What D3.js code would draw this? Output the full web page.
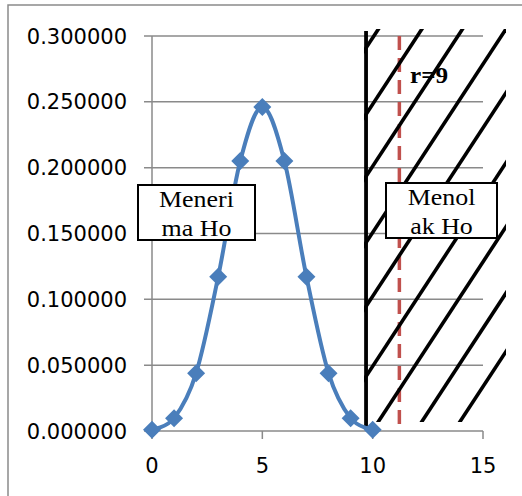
<!DOCTYPE html>
<html>
<head>
<meta charset="utf-8">
<script src="https://cdn.jsdelivr.net/npm/d3@7/dist/d3.min.js"></script>
<style>
  html, body { margin: 0; padding: 0; background: #fff; }
  svg { display: block; }
</style>
</head>
<body>
<script>
// ---- data ----
const xValues = [0, 1, 2, 3, 4, 5, 6, 7, 8, 9, 10];
const probabilities = [0.000977, 0.009766, 0.043945, 0.117188, 0.205078, 0.246094,
                       0.205078, 0.117188, 0.043945, 0.009766, 0.000977];
const xTicks = [0, 5, 10, 15];
const yTicks = [0, 0.05, 0.10, 0.15, 0.20, 0.25, 0.30];

// annotation shapes (data units)
const rejectBoundary = 9.70;          // solid black vertical line
const criticalLine = 11.21;           // red dashed line (r=9)
const hatchIntercepts = [-1.67, 0.30, 2.14, 4.11, 6.00, 8.08, 9.98, 11.95, 13.68]; // x at y=0
const acceptLines = ["Meneri", "ma Ho"];
const rejectLines = ["Menol", "ak Ho"];
const rLabel = "r=9";

// ---- layout ----
const W = 522, H = 496;
const svg = d3.select("body").append("svg").attr("width", W).attr("height", H);

const x = d3.scaleLinear().domain([0, 15]).range([152, 483]);
const y = d3.scaleLinear().domain([0, 0.3]).range([431, 36]);

const gridColor = "#8a8a8a";

// chart border
svg.append("rect").attr("x", 8).attr("y", 5).attr("width", 620).attr("height", 620)
  .attr("fill", "none").attr("stroke", gridColor).attr("stroke-width", 1.5);

// gridlines
svg.append("g").selectAll("line").data(yTicks).join("line")
  .attr("x1", x(0) - 8).attr("x2", x(15))
  .attr("y1", d => y(d)).attr("y2", d => y(d))
  .attr("stroke", gridColor).attr("stroke-width", 1.5);

// y axis line
svg.append("line").attr("x1", x(0)).attr("x2", x(0)).attr("y1", y(0.3)).attr("y2", y(0))
  .attr("stroke", gridColor).attr("stroke-width", 1.5);

// x axis ticks
svg.append("g").selectAll("line").data(xTicks).join("line")
  .attr("x1", d => x(d)).attr("x2", d => x(d)).attr("y1", y(0)).attr("y2", y(0) + 8)
  .attr("stroke", gridColor).attr("stroke-width", 1.5);

// tick labels
const fmt = d3.format(".6f");
svg.append("g").selectAll("text").data(yTicks).join("text")
  .attr("x", 127).attr("y", d => y(d) + 7.5)
  .attr("text-anchor", "end")
  .attr("font-family", "DejaVu Sans").attr("font-size", 21).attr("fill", "#000")
  .text(d => fmt(d));

svg.append("g").selectAll("text").data(xTicks).join("text")
  .attr("x", d => x(d)).attr("y", 473)
  .attr("text-anchor", "middle")
  .attr("font-family", "DejaVu Sans").attr("font-size", 21).attr("fill", "#000")
  .text(d => d);

// red dashed critical line
svg.append("line")
  .attr("x1", x(criticalLine)).attr("x2", x(criticalLine))
  .attr("y1", y(0.3)).attr("y2", y(0))
  .attr("stroke", "#c0504d").attr("stroke-width", 3.5)
  .attr("stroke-dasharray", "14,8");

// hatch lines
const clip = svg.append("defs").append("clipPath").attr("id", "hatchClip");
clip.append("rect").attr("x", x(rejectBoundary) - 2).attr("y", 29)
  .attr("width", 506 - x(rejectBoundary) + 2).attr("height", 422 - 29);
const slope = 0.655; // px of x per px of y
const yTopPx = 20, yBotPx = y(0);
svg.append("g").attr("clip-path", "url(#hatchClip)")
  .selectAll("line").data(hatchIntercepts).join("line")
  .attr("x1", d => x(d)).attr("y1", yBotPx)
  .attr("x2", d => x(d) + slope * (yBotPx - yTopPx)).attr("y2", yTopPx)
  .attr("stroke", "#000").attr("stroke-width", 3.6);

// vertical reject boundary
svg.append("line")
  .attr("x1", x(rejectBoundary)).attr("x2", x(rejectBoundary))
  .attr("y1", 31).attr("y2", 428)
  .attr("stroke", "#000").attr("stroke-width", 3.8);

// series
const pts = xValues.map((v, i) => [v, probabilities[i]]);
const line = d3.line().x(d => x(d[0])).y(d => y(d[1])).curve(d3.curveCardinal.tension(0));
svg.append("path").datum(pts).attr("d", line)
  .attr("fill", "none").attr("stroke", "#4a7ebb").attr("stroke-width", 4)
  .attr("stroke-linejoin", "round");
const r = 9;
svg.append("g").selectAll("path").data(pts).join("path")
  .attr("d", `M0,${-r}L${r},0L0,${r}L${-r},0Z`)
  .attr("transform", d => `translate(${x(d[0])},${y(d[1])})`)
  .attr("fill", "#4a7ebb");

// text boxes
function stretchText(sel, k) {
  sel.each(function () {
    const len = this.getComputedTextLength();
    d3.select(this).attr("textLength", len * k).attr("lengthAdjust", "spacingAndGlyphs");
  });
}
function textBox(x0, y0, w, h, lines) {
  svg.append("rect").attr("x", x0).attr("y", y0).attr("width", w).attr("height", h)
    .attr("fill", "#fff").attr("stroke", "#000").attr("stroke-width", 2);
  const t = svg.append("g").selectAll("text").data(lines).join("text")
    .attr("x", x0 + w / 2).attr("y", (d, i) => y0 + 22 + i * 28.5)
    .attr("text-anchor", "middle")
    .attr("font-family", "Liberation Serif").attr("font-size", 24).attr("fill", "#000")
    .text(d => d);
  stretchText(t, 1.08);
}
textBox(138, 185, 117, 55, acceptLines);
textBox(386, 183, 111, 55, rejectLines);

const rt = svg.append("text").attr("x", 410).attr("y", 82.5)
  .attr("font-family", "Liberation Serif").attr("font-weight", "bold")
  .attr("font-size", 24).attr("fill", "#000").text(rLabel);
stretchText(rt, 1.05);
</script>
</body>
</html>
